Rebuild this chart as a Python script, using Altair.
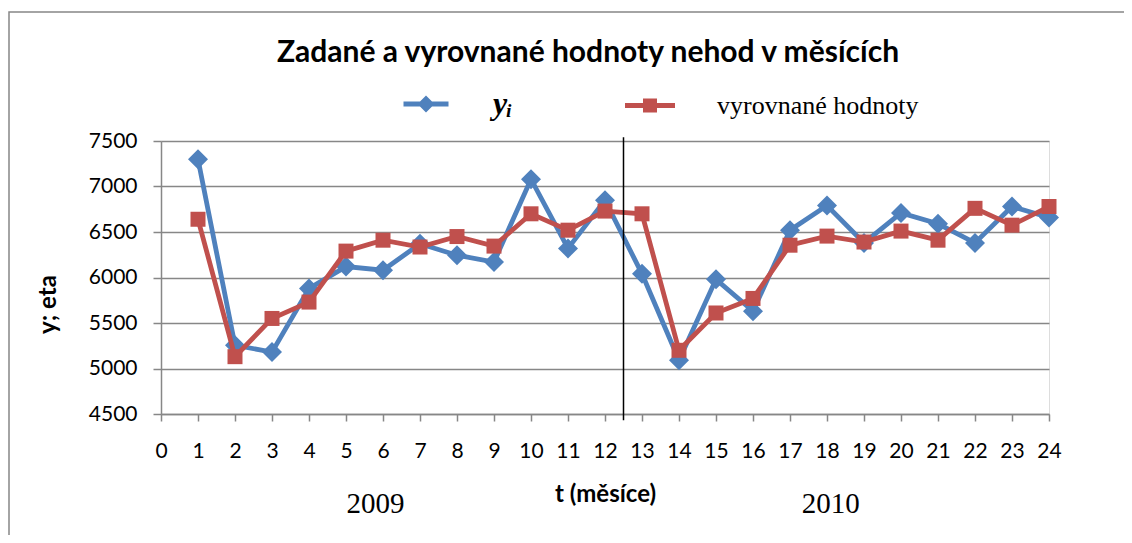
import altair as alt
import pandas as pd

# ---- data ----
months = list(range(1, 25))
actual_values = [7300, 5255, 5180, 5880, 6120, 6080, 6370, 6245, 6170, 7080, 6320, 6850,
                 6040, 5090, 5980, 5630, 6520, 6790, 6380, 6710, 6590, 6380, 6780, 6660]
fitted_values = [6640, 5130, 5550, 5730, 6290, 6410, 6335, 6450, 6345, 6700, 6520, 6730,
                 6700, 5200, 5610, 5770, 6355, 6455, 6390, 6510, 6410, 6760, 6575, 6780]
series_names = ["yᵢ", "vyrovnané hodnoty"]
series_colors = ["#4F81BD", "#C0504D"]
x_ticks = list(range(0, 25))
y_ticks = [4500, 5000, 5500, 6000, 6500, 7000, 7500]
divider_t = [12.5]
divider_low = [4430]
divider_high = [7540]
year_positions = [5.8, 18.1]
year_labels = ["2009", "2010"]

df = pd.DataFrame({
    "t": months * 2,
    "value": actual_values + fitted_values,
    "series": [series_names[0]] * len(months) + [series_names[1]] * len(months),
})
div_df = pd.DataFrame({"t": divider_t, "lo": divider_low, "hi": divider_high})
year_df = pd.DataFrame({"t": year_positions, "label": year_labels})

W, H = 888, 273
GRID = "#878787"

x_scale = alt.Scale(domain=[0, 24], nice=False, zero=False)
y_scale = alt.Scale(domain=[4500, 7500], nice=False, zero=False)

x_axis = alt.Axis(values=x_ticks, title="t (měsíce)", grid=False, format="d",
                  labelFont="Lato", labelFontSize=21, labelColor="black", labelPadding=19,
                  tickSize=7, tickColor=GRID, tickWidth=1.5, domainColor=GRID, domainWidth=1.5,
                  titleFont="Lato", titleFontSize=24, titleFontWeight="bold", titleColor="black",
                  titleY=80, titleBaseline="middle", labelFlush=False)
y_axis = alt.Axis(values=y_ticks, title="y; eta", grid=True, gridColor=GRID, gridWidth=1.5,
                  format="d",
                  labelFont="Lato", labelFontSize=21, labelColor="black", labelPadding=16,
                  tickSize=8, tickColor=GRID, tickWidth=1.5, domainColor=GRID, domainWidth=1.5,
                  titleFont="Lato", titleFontSize=24, titleFontWeight="bold", titleColor="black",
                  titleX=-113, titleY=163, titleAlign="center", titleBaseline="middle",
                  titleAngle=270)

x_enc = alt.X("t:Q", scale=x_scale, axis=x_axis)
y_enc = alt.Y("value:Q", scale=y_scale, axis=y_axis)

base = alt.Chart(df)

layers = []
point_shapes = ["diamond", "square"]
point_sizes = [400, 225]
for name, col, shp, sz in zip(series_names, series_colors, point_shapes, point_sizes):
    sub = base.transform_filter(alt.datum.series == name)
    layers.append(sub.mark_line(color=col, strokeWidth=4.8).encode(x=x_enc, y=y_enc))
    layers.append(sub.mark_point(shape=shp, size=sz, filled=True, color=col, opacity=1)
                  .encode(x=x_enc, y=y_enc))

legend_paths = [
    "M-2.25,-0.25H2.25V0.25H-2.25Z M0,-0.85L0.85,0L0,0.85L-0.85,0Z",
    "M-2.5,-0.25H2.5V0.25H-2.5Z M-0.7,-0.7H0.7V0.7H-0.7Z",
]
leg = alt.Legend(title=None, orient="none", legendX=252, legendY=-50, direction="horizontal",
                 symbolSize=400, symbolOpacity=1, symbolStrokeWidth=0,
                 labelFont="Liberation Serif", labelColor="black",
                 labelFontSize={"expr": "datum.index === 0 ? 32 : 26"},
                 labelFontStyle={"expr": "datum.index === 0 ? 'italic' : 'normal'"},
                 labelFontWeight={"expr": "datum.index === 0 ? 'bold' : 'normal'"},
                 labelOffset=54, columnPadding=112, padding=0, labelLimit=400)
legend_layer = base.mark_point(filled=True, opacity=0).encode(
    x=x_enc, y=y_enc,
    color=alt.Color("series:N", scale=alt.Scale(domain=series_names, range=series_colors), legend=leg),
    shape=alt.Shape("series:N", scale=alt.Scale(domain=series_names, range=legend_paths), legend=leg),
)

divider = alt.Chart(div_df).mark_rule(color="black", strokeWidth=1.5).encode(
    x=alt.X("t:Q", scale=x_scale, axis=x_axis),
    y=alt.Y("lo:Q", scale=y_scale, axis=y_axis),
    y2="hi:Q",
)

years = alt.Chart(year_df).mark_text(font="Liberation Serif", fontSize=29, color="black",
                                     baseline="middle", align="center").encode(
    x=alt.X("t:Q", scale=x_scale, axis=x_axis),
    y=alt.value(363),
    text="label:N",
)

frame = alt.Chart(pd.DataFrame({"k": [0]})).mark_rect(
    fillOpacity=0, stroke=GRID, strokeWidth=1.5).encode(
    x=alt.value(-152), x2=alt.value(1000), y=alt.value(-129), y2=alt.value(430))

chart = alt.layer(frame, *layers, divider, years, legend_layer).properties(
    width=W, height=H,
    title=alt.TitleParams("Zadané a vyrovnané hodnoty nehod v měsících", font="Lato",
                          fontSize=30, fontWeight="bold", color="black", anchor="middle",
                          dx=-17, dy=61),
    autosize=alt.AutoSizeParams(type="none"),
    padding={"left": 153, "top": 133, "right": 75, "bottom": 121},
).configure_view(stroke=None).configure(background="white")

chart.save("out.html", embed_options={"renderer": "svg", "actions": False})
